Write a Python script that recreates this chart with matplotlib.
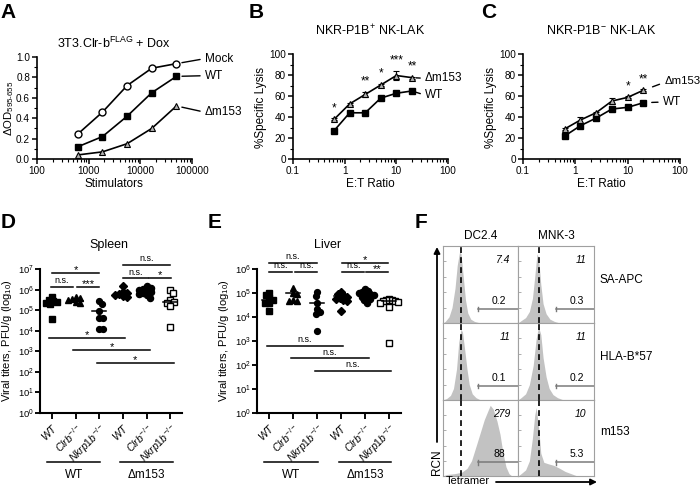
import numpy as np
import matplotlib
matplotlib.use('Agg')
import matplotlib.pyplot as plt
from matplotlib import transforms
from matplotlib.ticker import MultipleLocator, LogLocator, NullFormatter, FixedLocator

plt.rcParams['font.family'] = ['Liberation Sans', 'DejaVu Sans']
plt.rcParams['mathtext.fontset'] = 'custom'
plt.rcParams['mathtext.rm'] = 'Liberation Sans'
plt.rcParams['mathtext.it'] = 'Liberation Sans:italic'
plt.rcParams['mathtext.bf'] = 'Liberation Sans:bold'
plt.rcParams['mathtext.default'] = 'regular'

# ---------------- data ----------------
# Panel A
A_stim = [617, 1852, 5556, 16667, 50000]
A_mock = [0.245, 0.46, 0.72, 0.89, 0.935]
A_wt = [0.12, 0.22, 0.42, 0.65, 0.81]
A_dm153 = [0.04, 0.07, 0.15, 0.30, 0.52]

# Panels B, C
ET_ratio = [0.625, 1.25, 2.5, 5, 10, 20]
B_dm153 = [37.8, 52.5, 61.5, 70.5, 79.5, 77.5]
B_dm153_err = [1.0, 1.0, 2.5, 1.0, 4.5, 1.0]
B_wt = [27, 44, 44, 58, 62.6, 64.8]
B_wt_err = [1.0, 1.0, 1.0, 2.0, 1.0, 1.0]
B_stars = ['*', '', '**', '*', '***', '**']
C_dm153 = [28.6, 37.1, 44.1, 55.2, 58.7, 65.5]
C_dm153_err = [1.0, 2.5, 1.0, 2.6, 1.0, 1.0]
C_wt = [21.9, 31.7, 39.0, 47.6, 49.2, 53.6]
C_wt_err = [1.0, 1.0, 1.0, 1.0, 1.0, 1.0]
C_stars = ['', '', '', '', '*', '**']

# Panels D, E (log10 PFU/g)
group_ticklabels = [r'$\mathit{WT}$', r'$\mathit{Clrb}^{-/-}$', r'$\mathit{Nkrp1b}^{-/-}$',
                    r'$\mathit{WT}$', r'$\mathit{Clrb}^{-/-}$', r'$\mathit{Nkrp1b}^{-/-}$']
virus_groups = ['WT', 'Δm153']

D_WT_WT = [5.66, 5.5, 5.45, 5.4, 5.35, 5.3, 4.55]
D_WT_Clrb = [5.65, 5.6, 5.55, 5.5, 5.4, 5.35]
D_WT_Nkrp1b = [5.45, 5.3, 4.95, 4.6, 4.6, 4.1, 4.1]
D_DM_WT = [6.15, 5.9, 5.85, 5.8, 5.75, 5.7, 5.65]
D_DM_Clrb = [6.15, 6.1, 6.05, 6.0, 5.95, 5.9, 5.85, 5.8, 5.75, 5.6]
D_DM_Nkrp1b = [5.96, 5.83, 5.47, 5.42, 5.34, 5.21, 4.2]
D_median = [5.38, 5.45, 4.95, 5.83, 5.97, 5.42]

E_WT_WT = [5.0, 4.9, 4.8, 4.72, 4.6, 4.6, 4.25]
E_WT_Clrb = [5.22, 5.0, 4.95, 4.7, 4.65, 4.65]
E_WT_Nkrp1b = [5.05, 4.89, 4.6, 4.35, 4.22, 4.14, 3.4]
E_DM_WT = [5.05, 4.95, 4.9, 4.85, 4.8, 4.75, 4.7, 4.65, 4.25]
E_DM_Clrb = [5.15, 5.1, 5.05, 5.0, 4.95, 4.95, 4.9, 4.85, 4.8, 4.75, 4.7, 4.6]
E_DM_Nkrp1b = [4.75, 4.72, 4.7, 4.68, 4.65, 4.62, 4.6, 4.4, 2.9]
E_median = [4.72, 5.0, 4.6, 4.86, 4.95, 4.65]

# significance brackets: start, end (category units), log10 height, label
D_sig_x0 = [0.0, -0.05, 1.05, 3.0, 3.0, 4.1, -0.1, 0.9, 1.9]
D_sig_x1 = [2.0, 0.9, 2.0, 5.0, 4.05, 5.05, 3.1, 4.15, 5.15]
D_sig_y = [6.8, 6.14, 6.14, 7.2, 6.55, 6.55, 3.65, 3.07, 2.43]
D_sig_lab = ['*', 'n.s.', '***', 'n.s.', 'n.s.', '*', '*', '*', '*']

E_sig_x0 = [0.0, 0.0, 1.1, 3.05, 3.05, 4.05, -0.1, 0.9, 1.9]
E_sig_x1 = [2.0, 0.95, 2.0, 4.95, 3.97, 4.95, 3.1, 4.15, 5.1]
E_sig_y = [6.26, 5.89, 5.89, 6.26, 5.89, 5.89, 2.8, 2.28, 1.76]
E_sig_lab = ['n.s.', 'n.s.', 'n.s.', '*', 'n.s.', '**', 'n.s.', 'n.s.', 'n.s.']

# Panel F (tetramer histograms, normalised)
F_cols = ['DC2.4', 'MNK-3']
F_rows = ['SA-APC', 'HLA-B*57', 'm153']
F_mfi = [['7.4', '11'], ['11', '11'], ['279', '10']]
F_pct = [['0.2', '0.3'], ['0.1', '0.2'], ['88', '5.3']]
F_ref_line = [0.237, 0.28]
F_gate_start = [0.46, 0.5]

F_DC_SA_x = [0.0, 0.03, 0.08, 0.12, 0.16, 0.19, 0.22, 0.24, 0.27, 0.30, 0.33, 0.37, 0.42, 0.5, 1.0]
F_DC_SA_y = [0.0, 0.02, 0.08, 0.2, 0.45, 0.75, 0.92, 0.9, 0.6, 0.3, 0.13, 0.05, 0.02, 0.0, 0.0]
F_MNK_SA_x = [0.0, 0.04, 0.1, 0.15, 0.19, 0.22, 0.25, 0.27, 0.3, 0.33, 0.37, 0.42, 0.48, 0.55, 1.0]
F_MNK_SA_y = [0.0, 0.03, 0.07, 0.15, 0.32, 0.6, 0.9, 0.85, 0.5, 0.25, 0.12, 0.05, 0.02, 0.0, 0.0]
F_DC_HLA_x = [0.0, 0.05, 0.1, 0.14, 0.18, 0.21, 0.24, 0.26, 0.29, 0.32, 0.35, 0.39, 0.44, 0.5, 1.0]
F_DC_HLA_y = [0.0, 0.02, 0.06, 0.15, 0.4, 0.75, 0.92, 0.88, 0.65, 0.4, 0.2, 0.08, 0.03, 0.0, 0.0]
F_MNK_HLA_x = [0.0, 0.04, 0.1, 0.15, 0.2, 0.24, 0.27, 0.3, 0.33, 0.37, 0.41, 0.46, 0.52, 0.6, 1.0]
F_MNK_HLA_y = [0.0, 0.03, 0.08, 0.2, 0.45, 0.8, 0.95, 0.85, 0.55, 0.3, 0.15, 0.07, 0.03, 0.0, 0.0]
F_DC_M153_x = [0.0, 0.05, 0.15, 0.25, 0.32, 0.38, 0.45, 0.5, 0.55, 0.6, 0.63, 0.67, 0.72, 0.76, 0.80, 0.84, 0.88, 0.92, 1.0]
F_DC_M153_y = [0.0, 0.02, 0.03, 0.05, 0.1, 0.2, 0.42, 0.58, 0.74, 0.86, 0.93, 0.88, 0.72, 0.55, 0.3, 0.12, 0.03, 0.0, 0.0]
F_MNK_M153_x = [0.0, 0.04, 0.1, 0.15, 0.19, 0.22, 0.24, 0.27, 0.3, 0.34, 0.4, 0.47, 0.55, 0.62, 0.7, 0.78, 1.0]
F_MNK_M153_y = [0.0, 0.03, 0.08, 0.2, 0.5, 0.8, 0.9, 0.65, 0.3, 0.18, 0.16, 0.14, 0.1, 0.06, 0.03, 0.0, 0.0]

# ---------------- figure ----------------
W, H = 700, 488
fig = plt.figure(figsize=(7, 4.88), dpi=100)


def px_axes(l, t, r, b, **kw):
    return fig.add_axes([l / W, 1 - b / H, (r - l) / W, (b - t) / H], **kw)


def style(ax, lw=1.2, labelsize=7.2):
    for s in ['top', 'right']:
        ax.spines[s].set_visible(False)
    for s in ['left', 'bottom']:
        ax.spines[s].set_linewidth(lw)
    ax.tick_params(which='major', direction='out', length=3.5, width=lw * 0.9,
                   labelsize=labelsize, pad=1.5)
    ax.tick_params(which='minor', direction='out', length=2, width=0.8)


ov = px_axes(0, 0, W, H, zorder=10)
ov.set_xlim(0, W)
ov.set_ylim(H, 0)
ov.axis('off')
ov.patch.set_alpha(0)

# panel letters
for lab, (x, y) in {'A': (8, 12), 'B': (256, 12), 'C': (489, 12),
                    'D': (8, 223), 'E': (215, 223), 'F': (421, 222)}.items():
    ov.text(x, y, lab, fontsize=15, fontweight='bold', ha='center', va='center')

# ---- Panel A ----
axA = px_axes(37, 57, 192, 159)
axA.set_xscale('log')
axA.plot(A_stim, A_mock, '-o', color='black', mfc='white', mec='black', ms=5, lw=1.2, mew=1, clip_on=False, zorder=3)
axA.plot(A_stim, A_wt, '-s', color='black', mfc='black', ms=5, lw=1.2, clip_on=False, zorder=3)
axA.plot(A_stim, A_dm153, '-^', color='black', mfc='#b0b0b0', mec='black', ms=5, lw=1.2, mew=0.8, clip_on=False, zorder=3)
axA.set_xlim(100, 1e5)
axA.set_ylim(0, 1.0)
axA.set_xticks([100, 1000, 10000, 100000])
axA.set_xticklabels(['100', '1000', '10000', '100000'])
axA.xaxis.set_minor_locator(LogLocator(base=10, subs=np.arange(2, 10)))
axA.xaxis.set_minor_formatter(NullFormatter())
axA.set_yticks([0, 0.2, 0.4, 0.6, 0.8, 1.0])
axA.set_yticklabels(['0.0', '0.2', '0.4', '0.6', '0.8', '1.0'])
axA.yaxis.set_minor_locator(MultipleLocator(0.1))
style(axA)
arrow_kw = dict(arrowstyle='-', lw=1.0, color='black', shrinkA=1.5, shrinkB=4, relpos=(0, 0.5))
for lab, ys, dy in [('Mock', A_mock, 3.6), ('WT', A_wt, 0.5), ('Δm153', A_dm153, -4.5)]:
    axA.annotate(lab, xy=(A_stim[-1], ys[-1]), xytext=(20.5, dy), textcoords='offset points',
                 ha='left', va='center', fontsize=8.5, arrowprops=arrow_kw, annotation_clip=False)
ov.text(114, 43, r'3T3.Clr-b$^{FLAG}$ + Dox', fontsize=9, ha='center', va='center')
ov.text(114, 184, 'Stimulators', fontsize=8.5, ha='center', va='center')
ov.text(9, 108, r'ΔOD$_{595\text{-}655}$', fontsize=8.2, ha='center', va='center', rotation=90)


def lysis_panel(ax, dm, dm_err, wt, wt_err, stars):
    ax.set_xscale('log')
    ax.errorbar(ET_ratio, wt, yerr=wt_err, fmt='-s', color='black', mfc='black', ms=5, lw=1.2,
                capsize=2, elinewidth=0.8, clip_on=False, zorder=3)
    ax.errorbar(ET_ratio, dm, yerr=dm_err, fmt='-^', color='black', mfc='#b0b0b0', mec='black',
                ms=5, lw=1.2, mew=0.8, capsize=2, elinewidth=0.8, clip_on=False, zorder=4)
    ax.set_xlim(0.1, 100)
    ax.set_ylim(0, 100)
    ax.set_xticks([0.1, 1, 10, 100])
    ax.set_xticklabels(['0.1', '1', '10', '100'])
    ax.xaxis.set_minor_locator(LogLocator(base=10, subs=np.arange(2, 10)))
    ax.xaxis.set_minor_formatter(NullFormatter())
    ax.set_yticks([0, 20, 40, 60, 80, 100])
    ax.yaxis.set_minor_locator(MultipleLocator(10))
    style(ax)
    for x, v, e, s in zip(ET_ratio, dm, dm_err, stars):
        if s:
            ax.annotate(s, xy=(x, v + e), xytext=(0, 3), textcoords='offset points',
                        ha='center', va='bottom', fontsize=8.5, annotation_clip=False)


# ---- Panel B ----
axB = px_axes(293, 54, 448, 159)
lysis_panel(axB, B_dm153, B_dm153_err, B_wt, B_wt_err, B_stars)
axB.annotate('Δm153', xy=(ET_ratio[-1], B_dm153[-1]), xytext=(9.5, -0.5), textcoords='offset points',
             ha='left', va='center', fontsize=8.5, annotation_clip=False,
             arrowprops=dict(arrowstyle='-', lw=1.0, color='black', shrinkA=1.5, shrinkB=3, relpos=(0, 0.5)))
axB.annotate('WT', xy=(ET_ratio[-1], B_wt[-1]), xytext=(9.5, -3), textcoords='offset points',
             ha='left', va='center', fontsize=8.5, annotation_clip=False,
             arrowprops=dict(arrowstyle='-', lw=1.0, color='black', shrinkA=1.5, shrinkB=3, relpos=(0, 0.5)))
ov.text(370, 31, r'NKR-P1B$^{+}$ NK-LAK', fontsize=9, ha='center', va='center')
ov.text(370, 184, 'E:T Ratio', fontsize=8.5, ha='center', va='center')
ov.text(261, 108, '%Specific Lysis', fontsize=8.5, ha='center', va='center', rotation=90)

# ---- Panel C ----
axC = px_axes(523, 54, 680, 159)
lysis_panel(axC, C_dm153, C_dm153_err, C_wt, C_wt_err, C_stars)
axC.annotate('Δm153', xy=(ET_ratio[-1], C_dm153[-1]), xytext=(15, 7), textcoords='offset points',
             ha='left', va='center', fontsize=8.2, annotation_clip=False,
             arrowprops=dict(arrowstyle='-', lw=1.0, color='black', shrinkA=1.5, shrinkB=7, relpos=(0, 0.3)))
axC.annotate('WT', xy=(ET_ratio[-1], C_wt[-1]), xytext=(14, 0.5), textcoords='offset points',
             ha='left', va='center', fontsize=8.5, annotation_clip=False,
             arrowprops=dict(arrowstyle='-', lw=1.0, color='black', shrinkA=1.5, shrinkB=6, relpos=(0, 0.5)))
ov.text(601, 31, r'NKR-P1B$^{-}$ NK-LAK', fontsize=9, ha='center', va='center')
ov.text(601, 184, 'E:T Ratio', fontsize=8.5, ha='center', va='center')
ov.text(491, 108, '%Specific Lysis', fontsize=8.5, ha='center', va='center', rotation=90)


# ---- Panels D & E ----
def swarm(vals, xpx, ypx, diam=4.0, maxoff=0.36):
    order = np.argsort(vals)[::-1]
    placed = []
    offs = np.zeros(len(vals))
    for i in order:
        yp = vals[i] * ypx
        best = 0.0
        for k in range(0, 400):
            found = False
            for sgn in ([1, -1] if k % 2 == 0 else [-1, 1]) if k else [1]:
                dx = sgn * k * 0.5
                if all((dx - px) ** 2 + (yp - py) ** 2 >= diam ** 2 for px, py in placed):
                    best = dx
                    found = True
                    break
            if found:
                break
        placed.append((best, yp))
        offs[i] = best / xpx
    m = np.max(np.abs(offs))
    if m > maxoff:
        offs = offs * maxoff / m
    return offs


markers = ['s', '^', 'o', 'D', 'o', 's']
faces = ['black', 'black', 'black', 'black', 'black', 'white']
msizes = [4.0, 4.4, 4.2, 4.0, 4.4, 5.0]


def titer_panel(ax, groups, med, top_exp, xpx, ypx, sx0, sx1, sy, slab, star_fs, ns_fs):
    ax.set_yscale('log')
    ax.set_xlim(-0.5, 5.5)
    ax.set_ylim(1, 10 ** top_exp)
    for i, vals in enumerate(groups):
        v = np.array(vals, dtype=float)
        off = swarm(v, xpx, ypx)
        ax.plot(i + off, 10 ** v, linestyle='none', marker=markers[i], mfc=faces[i], mec='black',
                mew=1.0, ms=msizes[i], clip_on=False, zorder=3)
        ax.plot([i - 0.3, i + 0.3], [10 ** med[i]] * 2, color='black', lw=1.1, zorder=4)
    for x0, x1, y, lab in zip(sx0, sx1, sy, slab):
        ax.plot([x0, x1], [10 ** y] * 2, color='black', lw=1.1, clip_on=False)
        if lab == 'n.s.':
            ax.annotate(lab, xy=((x0 + x1) / 2, 10 ** y), xytext=(0, 1.2), textcoords='offset points',
                        ha='center', va='bottom', fontsize=ns_fs, annotation_clip=False)
        else:
            ax.annotate(lab, xy=((x0 + x1) / 2, 10 ** y), xytext=(0, -1.5), textcoords='offset points',
                        ha='center', va='bottom', fontsize=star_fs, annotation_clip=False)
    ax.set_yticks([10 ** k for k in range(top_exp + 1)])
    ax.set_yticklabels([r'$10^{%d}$' % k for k in range(top_exp + 1)])
    ax.yaxis.set_minor_locator(FixedLocator([]))
    ax.set_xticks(range(6))
    ax.set_xticklabels(group_ticklabels, rotation=45, ha='right', va='top', rotation_mode='anchor', fontsize=7.5)
    style(ax, lw=1.5, labelsize=6.8)
    ax.tick_params(axis='y', pad=1)
    ax.tick_params(axis='x', length=4, pad=2, labelsize=7.5)
    tr = transforms.blended_transform_factory(ax.transData, fig.transFigure)
    for (x0, x1), lab in zip([(-0.2, 2.05), (2.9, 5.1)], virus_groups):
        ax.plot([x0, x1], [1 - 462 / H] * 2, color='black', lw=1.1, transform=tr, clip_on=False)
        ax.text((x0 + x1) / 2, 1 - 475 / H, lab, transform=tr, ha='center', va='center', fontsize=8.5)


axD = px_axes(40, 269, 182, 413)
titer_panel(axD, [D_WT_WT, D_WT_Clrb, D_WT_Nkrp1b, D_DM_WT, D_DM_Clrb, D_DM_Nkrp1b], D_median, 7,
            23.5, 20.5, D_sig_x0, D_sig_x1, D_sig_y, D_sig_lab, 8, 6.5)
ov.text(109, 245, 'Spleen', fontsize=9, ha='center', va='center')
ov.text(7, 341, r'Viral titers, PFU/g (log$_{10}$)', fontsize=8, ha='center', va='center', rotation=90)

axE = px_axes(257, 269, 401, 413)
titer_panel(axE, [E_WT_WT, E_WT_Clrb, E_WT_Nkrp1b, E_DM_WT, E_DM_Clrb, E_DM_Nkrp1b], E_median, 6,
            24, 24, E_sig_x0, E_sig_x1, E_sig_y, E_sig_lab, 8, 6.5)
ov.text(328, 245, 'Liver', fontsize=9, ha='center', va='center')
ov.text(224, 341, r'Viral titers, PFU/g (log$_{10}$)', fontsize=8, ha='center', va='center', rotation=90)

# ---- Panel F ----
F_hist = [[(F_DC_SA_x, F_DC_SA_y), (F_MNK_SA_x, F_MNK_SA_y)],
          [(F_DC_HLA_x, F_DC_HLA_y), (F_MNK_HLA_x, F_MNK_HLA_y)],
          [(F_DC_M153_x, F_DC_M153_y), (F_MNK_M153_x, F_MNK_M153_y)]]
cols_px = [(443, 518), (518, 594)]
rows_px = [(246, 323), (323, 400), (400, 476)]
for r in range(3):
    for c in range(2):
        ax = px_axes(cols_px[c][0], rows_px[r][0], cols_px[c][1], rows_px[r][1])
        hx, hy = F_hist[r][c]
        ax.fill_between(hx, hy, color='#c2c2c2', lw=0)
        ax.set_xlim(0, 1)
        ax.set_ylim(0, 1)
        ax.axvline(F_ref_line[c], color='black', lw=1.2, ls=(0, (3.5, 2.5)), zorder=3)
        g0 = F_gate_start[c]
        ax.plot([g0, 1], [0.18, 0.18], color='#7a7a7a', lw=1.1, clip_on=False)
        ax.plot([g0, g0], [0.15, 0.21], color='#7a7a7a', lw=1.0)
        ax.text((g0 + 1) / 2 + 0.02, 0.22, F_pct[r][c], ha='center', va='bottom', fontsize=7.5)
        ax.text(0.9, 0.82, F_mfi[r][c], ha='right', va='center', fontsize=7.5, style='italic')
        for s in ax.spines.values():
            s.set_color('#a0a0a0')
            s.set_linewidth(0.8)
        ax.set_xticks([])
        ax.set_yticks([0.2, 0.4, 0.6, 0.8])
        ax.tick_params(axis='y', direction='in', length=2, width=0.6, color='#a0a0a0', labelleft=False)
        if r == 0:
            ov.text((cols_px[c][0] + cols_px[c][1]) / 2, 236, F_cols[c], ha='center', va='center', fontsize=8.5)
    ov.text(600, [280, 357, 432][r], F_rows[r], ha='left', va='center', fontsize=8.5)

ov.annotate('', xy=(437, 247), xytext=(437, 442),
            arrowprops=dict(arrowstyle='-|>', lw=1.3, color='black', mutation_scale=9, shrinkA=0, shrinkB=0))
ov.text(437, 462, 'RCN', rotation=90, ha='center', va='center', fontsize=8.5)
ov.text(446, 481.5, 'Tetramer', ha='left', va='center', fontsize=8)
ov.annotate('', xy=(597, 482), xytext=(496, 482),
            arrowprops=dict(arrowstyle='-|>', lw=1.3, color='black', mutation_scale=9, shrinkA=0, shrinkB=0))

fig.savefig('out.png', dpi=100)
